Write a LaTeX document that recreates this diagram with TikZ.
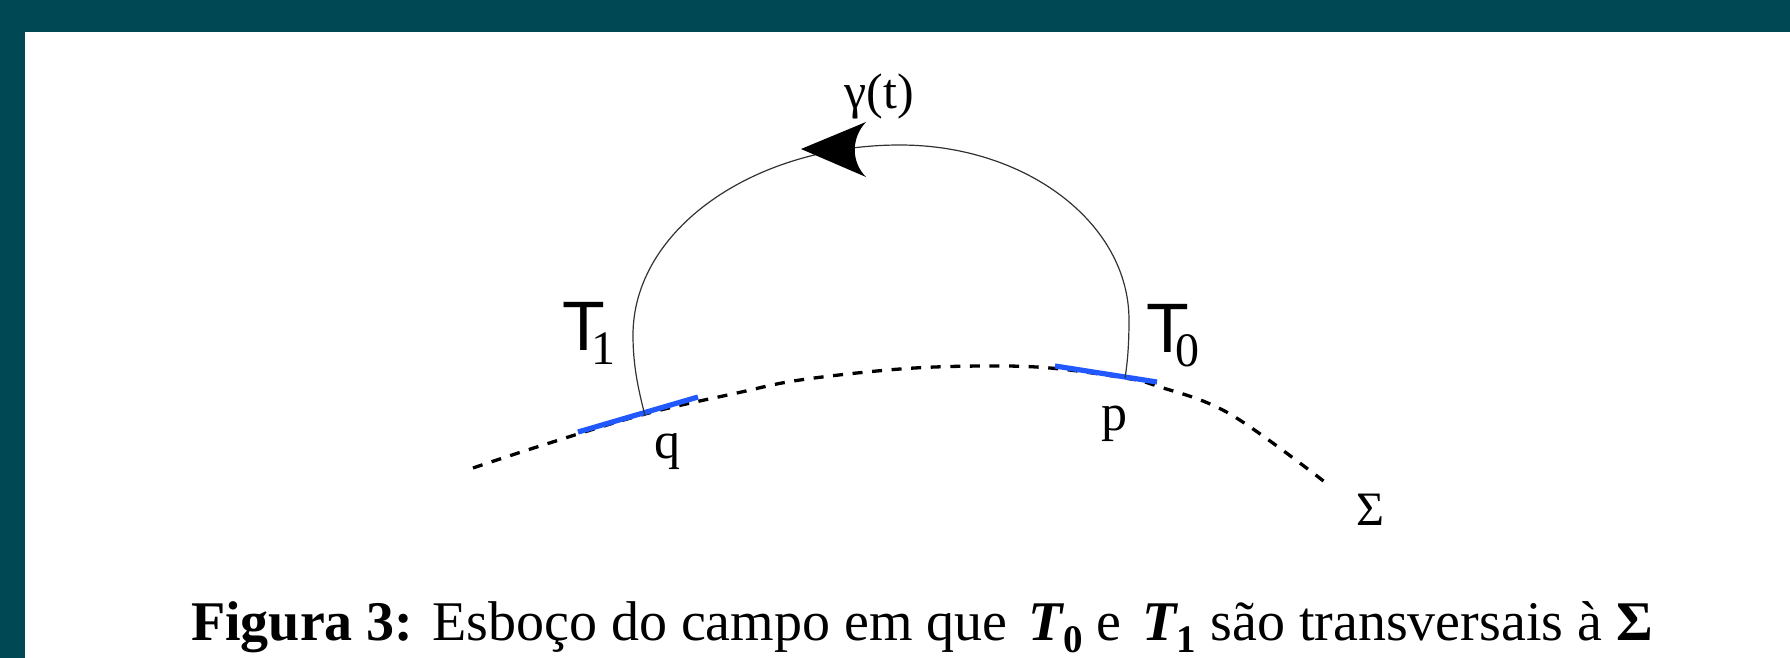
\documentclass[tikz,border=0pt]{standalone}
\usepackage{fontspec}
\setmainfont{Liberation Serif}
\newfontfamily\labsans{Liberation Sans}
\definecolor{frameteal}{RGB}{0,73,84}
\definecolor{tanblue}{RGB}{33,88,255}
\definecolor{orbitgray}{RGB}{50,50,50}
\newcommand{\tsubtxt}[1]{\kern-0.2em\raisebox{-0.2em}{\rmfamily\fontsize{24}{24}\selectfont #1}}
\newcommand{\capT}[1]{{\bfseries\itshape T}\raisebox{-0.22em}{\bfseries\fontsize{19.5}{19.5}\selectfont #1}}
\tikzset{
  sigmaline/.style={line width=1.65pt, dash pattern=on 5pt off 4.8pt, black},
  tanline/.style={line width=2.6pt, tanblue},
  orbitline/.style={line width=0.6pt, orbitgray},
  ptlabel/.style={inner sep=0pt, font=\fontsize{26}{26}\selectfont},
  tlabel/.style={inner sep=0pt, anchor=base west, font=\labsans\fontsize{35}{35}\selectfont},
}
\begin{document}
\begin{tikzpicture}[x=0.5pt,y=-0.5pt]
\useasboundingbox (0,0) rectangle (1790,658);
% frame
\fill[frameteal] (0,0) rectangle (1790,32);
\fill[frameteal] (0,0) rectangle (25,658);
% coordinates
\coordinate (p) at (1125,378);
\coordinate (q) at (645,416);
\coordinate (rgt) at (1129,320);
\coordinate (top) at (900,145);
\coordinate (lft) at (633,335);
\coordinate (b1a) at (578,432);
\coordinate (b1b) at (698,397);
\coordinate (b2a) at (1055,366);
\coordinate (b2b) at (1157,382);
% Sigma curve
\draw[sigmaline] plot[smooth, tension=0.6] coordinates {(473,468) (540,446) (645,414) (737,393) (800,380) (900,369) (983,366) (1050,368) (1125,378) (1157,386) (1230,414) (1330,486)};
% tangent segments
\draw[tanline] (b1a) -- (b1b);
\draw[tanline] (b2a) -- (b2b);
% orbit
\draw[orbitline] (p) .. controls (1128,360) and (1129,340) .. (rgt)
  .. controls (1129,223) and (1026,145) .. (top)
  .. controls (753,145) and (633,230) .. (lft)
  .. controls (633,370) and (640,395) .. (q);
% arrowhead
\coordinate (tip) at (801,149);
\fill[black] (tip) -- (866,122) .. controls (851,138) and (851,162) .. (866,177) -- cycle;
% labels
\node[inner sep=0pt, font=\fontsize{25}{25}\selectfont] (gam) at (879,96) {γ(t)};
\node[tlabel] (T1) at (562,350) {T\tsubtxt{1}};
\node[tlabel] (T0) at (1146,352) {T\tsubtxt{0}};
\node[ptlabel, anchor=base] (ql) at (667,458) {q};
\node[ptlabel, anchor=base] (pl) at (1114,430) {p};
\node[inner sep=0pt, font=\fontsize{24}{24}\selectfont, anchor=base] (sig) at (1370,525) {Σ};
% caption
\node[inner sep=0pt, anchor=base, font=\fontsize{28}{30}\selectfont] (cap) at (922,640)
  {\textbf{Figura 3:} Esboço do campo em que\hspace{0.38em}\capT{0} e\hspace{0.38em}\capT{1} são transversais à {\bfseries Σ}};
\end{tikzpicture}
\end{document}
